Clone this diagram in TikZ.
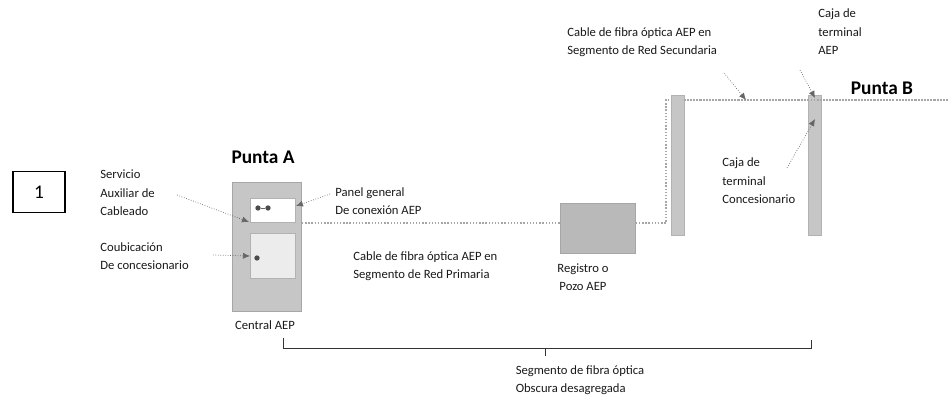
\documentclass[tikz,border=0pt]{standalone}
\usepackage{fontspec}
\setmainfont{Carlito}
\usetikzlibrary{arrows.meta}

\begin{document}
\begin{tikzpicture}[
        x=0.02cm, y=-0.02cm,
        lbl/.style={font=\fontsize{7.2}{10.5}\selectfont, align=left, inner sep=0pt, text=black!90},
        title/.style={font=\fontsize{11}{13}\selectfont\bfseries, inner sep=0pt},
        block/.style={rectangle, draw=gray!70, fill=gray!45, inner sep=0pt},
        pole/.style={rectangle, draw=gray!60, fill=gray!45, inner sep=0pt, minimum width=0.26cm, minimum height=2.8cm},
        cable/.style={densely dotted, gray!70, thick},
        leader/.style={densely dotted, black!60, -{Latex[length=4pt, width=3.5pt]}},
        dot/.style={circle, fill=black!70, inner sep=0pt, minimum size=3pt},
    ]
    \useasboundingbox (0,0) rectangle (948,406);

    % number box
    \node[draw, thick, minimum width=1.04cm, minimum height=0.82cm, font=\fontsize{11}{13}\selectfont] (num) at (39,192) {1};

    % Punta A: central AEP
    \node[title] (puntaA) at (263,157) {Punta A};
    \node[block, minimum width=1.38cm, minimum height=2.58cm] (central) at (267,247) {};
    \node[rectangle, draw=gray!60, fill=white, minimum width=0.9cm, minimum height=0.48cm] (panel) at (273,210) {};
    \node[rectangle, draw=gray!60, fill=gray!15, minimum width=0.9cm, minimum height=0.9cm] (coub) at (273,256) {};
    \node[dot] (d1) at (258,208) {};
    \node[dot] (d2) at (268,208) {};
    \node[dot] (d3) at (257,258) {};
    \draw[black!60] (d1) -- (d2);
    \node[lbl] (central_lbl) at (265,325) {Central AEP};

    % labels left of central
    \node[lbl, anchor=west] (servicio) at (100,193) {Servicio\\Auxiliar de\\Cableado};
    \node[lbl, anchor=west] (coubicacion) at (100,256) {Coubicación\\De concesionario};
    \node[lbl, anchor=west] (panel_lbl) at (335,201) {Panel general\\De conexión AEP};
    \coordinate (servicio_to) at (249,222);
    \coordinate (coub_to) at (250,256);
    \coordinate (panel_to) at (296,206);
    \draw[leader] (177,195) -- (servicio_to);
    \draw[leader] (213,255) -- (coub_to);
    \draw[leader] (330,194) -- (panel_to);

    % registro o pozo
    \node[block, fill=gray!55, minimum width=1.5cm, minimum height=1.0cm] (registro) at (598,228) {};
    \node[lbl, align=center] (registro_lbl) at (583,277) {Registro o\\Pozo AEP};

    % primary cable
    \coordinate (cable_start) at (302,223);
    \draw[cable] (cable_start) -- (registro.west |- cable_start);
    \node[lbl, anchor=west] (primaria) at (353,266) {Cable de fibra óptica AEP en\\Segmento de Red Primaria};

    % secondary cable and poles
    \coordinate (corner) at (666,100);
    \coordinate (cable_end) at (948,100);
    \draw[cable] (registro.east |- cable_start) -| (corner) -- (cable_end);
    \node[pole] (pole1) at (677.5,165) {};
    \node[pole] (pole2) at (814.5,165) {};
    \draw[cable] (pole1.east |- corner) -- (cable_end);

    \node[lbl, anchor=west] (secundaria) at (567,42) {Cable de fibra óptica AEP en\\Segmento de Red Secundaria};
    \coordinate (secundaria_to) at (746,100);
    \draw[leader] (724,73) -- (secundaria_to);

    % Punta B
    \node[title] (puntaB) at (882,88) {Punta B};
    \node[lbl, anchor=west] (caja_aep) at (818,32) {Caja de\\terminal\\AEP};
    \node[lbl, anchor=west] (caja_conc) at (722,181) {Caja de\\terminal\\Concesionario};
    \coordinate (caja_aep_to) at (815,98);
    \coordinate (caja_conc_to) at (815,119);
    \draw[leader] (800,70) -- (caja_aep_to);
    \draw[leader] (787,168) -- (caja_conc_to);

    % bracket
    \coordinate (brL) at (283,338);
    \coordinate (brR) at (811,340);
    \coordinate (brM) at (545,348);
    \draw[black!80] (brL) -- (283,348) -- (811,348) -- (brR);
    \draw[black!80] (brM) -- ++(0,8);
    \node[lbl, align=left] (segmento) at (580,380) {Segmento de fibra óptica\\Obscura desagregada};
\end{tikzpicture}
\end{document}
